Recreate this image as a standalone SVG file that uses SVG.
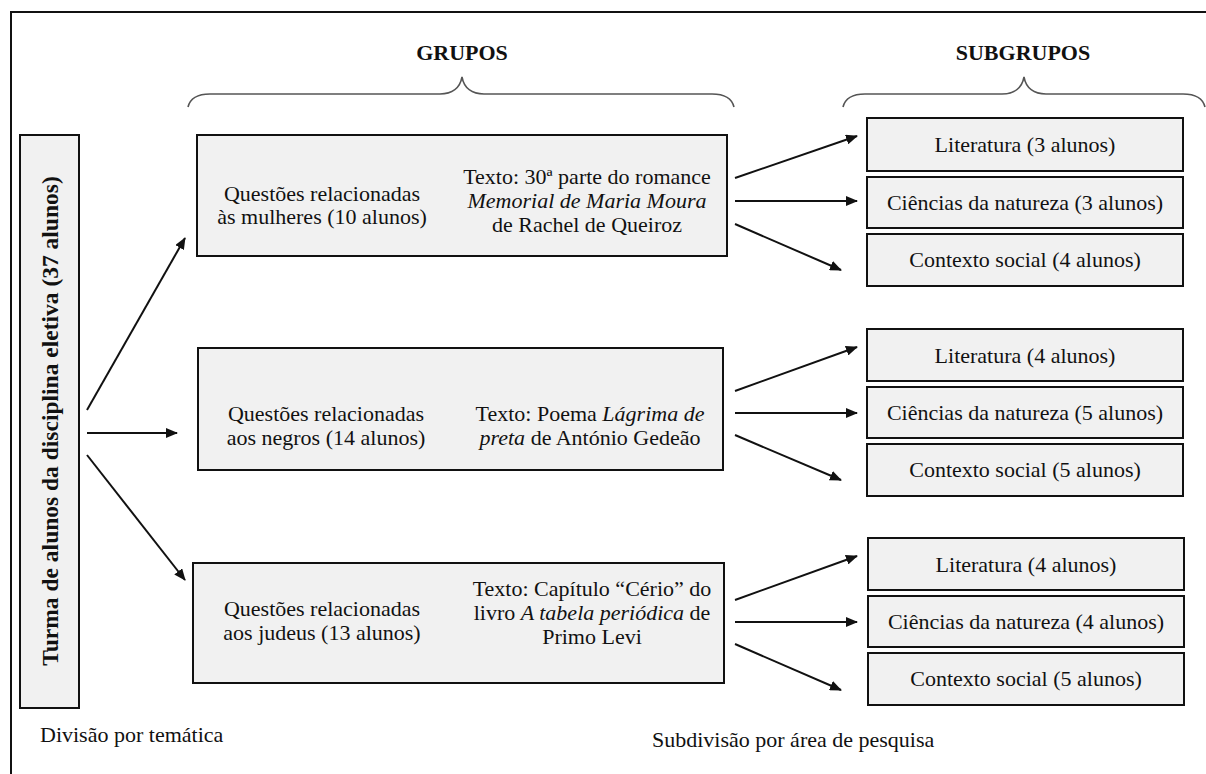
<svg xmlns="http://www.w3.org/2000/svg" width="1206" height="774" viewBox="0 0 1206 774" font-family="'Liberation Serif','Times New Roman',serif">
<style>
text{font-family:"Liberation Serif","Times New Roman",serif;font-size:22px;fill:#111}
.b{font-weight:bold}
.c{text-anchor:middle}
.i{font-style:italic}
.box{fill:#f1f1f1;stroke:#111;stroke-width:2}
.brace{fill:none;stroke:#555;stroke-width:1.6}
.con line{stroke:#111;stroke-width:2}
</style>
<defs>
<marker id="ah" viewBox="0 0 12 10" refX="11" refY="5" markerWidth="12" markerHeight="10" markerUnits="userSpaceOnUse" orient="auto">
<path d="M0,0 L12,5 L0,10 Z" fill="#111"/>
</marker>
</defs>
<rect width="1206" height="774" fill="#fff"/>
<path d="M11,774 V12 H1206" fill="none" stroke="#111" stroke-width="2"/>

<g id="headers">
<text class="b c" x="462" y="60">GRUPOS</text>
<text class="b c" x="1023" y="60">SUBGRUPOS</text>
<path class="brace" d="M188,107 C190,99 197,94 210,94 H440 C452,94 460,88 462,77 C464,88 472,94 484,94 H712 C725,94 732,99 734,107"/>
<path class="brace" d="M843,107 C845,99 852,94 865,94 H1002 C1014,94 1022,88 1024,77 C1026,88 1034,94 1046,94 H1183 C1196,94 1203,99 1205,107"/>
</g>

<g id="root">
<rect class="box" x="20" y="135" width="59" height="573"/>
<text class="b c" style="font-size:23.5px" transform="translate(58,421) rotate(-90)" x="0" y="0">Turma de alunos da disciplina eletiva (37 alunos)</text>
</g>

<g id="g1">
<rect class="box" x="197" y="135" width="530" height="121"/>
<text class="c" x="322" y="201">Questões relacionadas</text>
<text class="c" x="322" y="224">às mulheres (10 alunos)</text>
<text class="c" x="587" y="184">Texto: 30ª parte do romance</text>
<text class="c i" x="587" y="208">Memorial de Maria Moura</text>
<text class="c" x="587" y="232">de Rachel de Queiroz</text>
</g>
<g id="g2">
<rect class="box" x="198" y="348" width="525" height="122"/>
<text class="c" x="326" y="421">Questões relacionadas</text>
<text class="c" x="326" y="445">aos negros (14 alunos)</text>
<text class="c" x="590" y="421">Texto: Poema <tspan class="i">Lágrima de</tspan></text>
<text class="c" x="590" y="445"><tspan class="i">preta</tspan> de António Gedeão</text>
</g>
<g id="g3">
<rect class="box" x="193" y="563" width="531" height="120"/>
<text class="c" x="322" y="616">Questões relacionadas</text>
<text class="c" x="322" y="640">aos judeus (13 alunos)</text>
<text class="c" x="592" y="596">Texto: Capítulo “Cério” do</text>
<text class="c" x="592" y="620">livro <tspan class="i">A tabela periódica</tspan> de</text>
<text class="c" x="592" y="644">Primo Levi</text>
</g>

<g id="s1a"><rect class="box" x="867" y="118" width="316" height="53"/><text class="c" x="1025" y="152">Literatura (3 alunos)</text></g>
<g id="s1b"><rect class="box" x="867" y="177" width="316" height="51"/><text class="c" x="1025" y="210">Ciências da natureza (3 alunos)</text></g>
<g id="s1c"><rect class="box" x="867" y="234" width="316" height="52"/><text class="c" x="1025" y="267">Contexto social (4 alunos)</text></g>

<g id="s2a"><rect class="box" x="867" y="329" width="316" height="52"/><text class="c" x="1025" y="363">Literatura (4 alunos)</text></g>
<g id="s2b"><rect class="box" x="867" y="387" width="316" height="51"/><text class="c" x="1025" y="420">Ciências da natureza (5 alunos)</text></g>
<g id="s2c"><rect class="box" x="867" y="444" width="316" height="52"/><text class="c" x="1025" y="477">Contexto social (5 alunos)</text></g>

<g id="s3a"><rect class="box" x="868" y="538" width="316" height="52"/><text class="c" x="1026" y="572">Literatura (4 alunos)</text></g>
<g id="s3b"><rect class="box" x="868" y="596" width="316" height="51"/><text class="c" x="1026" y="629">Ciências da natureza (4 alunos)</text></g>
<g id="s3c"><rect class="box" x="868" y="653" width="316" height="52"/><text class="c" x="1026" y="686">Contexto social (5 alunos)</text></g>

<g id="connectors" class="con">
<line x1="87" y1="410" x2="185" y2="238" marker-end="url(#ah)"/>
<line x1="87" y1="433" x2="177" y2="433" marker-end="url(#ah)"/>
<line x1="87" y1="455" x2="185" y2="580" marker-end="url(#ah)"/>
<line x1="735" y1="178" x2="857" y2="136" marker-end="url(#ah)"/>
<line x1="735" y1="201" x2="857" y2="201" marker-end="url(#ah)"/>
<line x1="735" y1="224" x2="841" y2="270" marker-end="url(#ah)"/>
<line x1="735" y1="391" x2="857" y2="347" marker-end="url(#ah)"/>
<line x1="735" y1="413" x2="857" y2="413" marker-end="url(#ah)"/>
<line x1="735" y1="435" x2="841" y2="480" marker-end="url(#ah)"/>
<line x1="735" y1="600" x2="857" y2="556" marker-end="url(#ah)"/>
<line x1="735" y1="622" x2="857" y2="622" marker-end="url(#ah)"/>
<line x1="735" y1="644" x2="841" y2="690" marker-end="url(#ah)"/>
</g>

<text x="40" y="742">Divisão por temática</text>
<text x="652" y="747">Subdivisão por área de pesquisa</text>
</svg>
